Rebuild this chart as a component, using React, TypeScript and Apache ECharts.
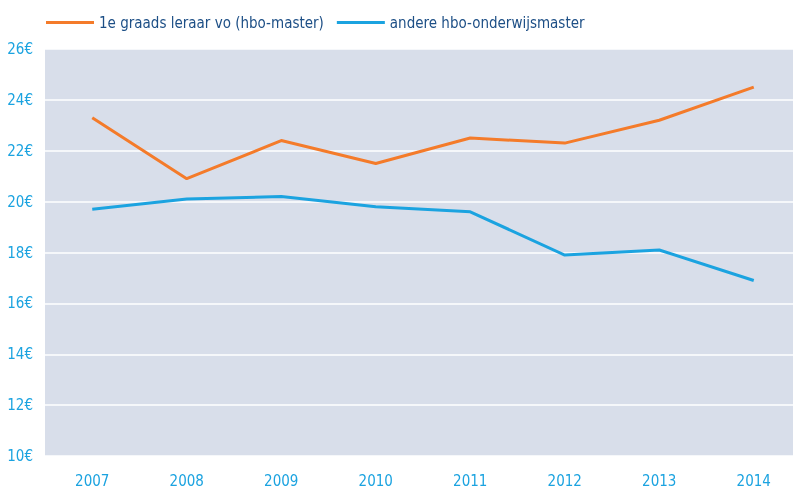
import React, { useEffect, useRef } from "react";
import * as echarts from "echarts";

const years = ["2007", "2008", "2009", "2010", "2011", "2012", "2013", "2014"];
const leraarVo = [23.3, 20.9, 22.4, 21.5, 22.5, 22.3, 23.2, 24.5];
const andereMaster = [19.7, 20.1, 20.2, 19.8, 19.6, 17.9, 18.1, 16.9];
const seriesNames = ["1e graads leraar vo (hbo-master)", "andere hbo-onderwijsmaster"];

const FONT = "'Liberation Sans Narrow', 'DejaVu Sans Condensed', 'Roboto', sans-serif";

export default function App() {
  const ref = useRef<HTMLDivElement>(null);
  useEffect(() => {
    if (!ref.current) return;
    const chart = echarts.init(ref.current, null, { renderer: "svg" });
    chart.setOption({
      animation: false,
      textStyle: { fontFamily: FONT },
      legend: {
        left: 41,
        top: 10,
        itemWidth: 48,
        itemHeight: 3,
        itemGap: 13,
        icon: "rect",
        textStyle: { color: "#1d4f86", fontSize: 15, fontFamily: FONT },
        data: seriesNames,
      },
      grid: {
        left: 45,
        right: 0,
        top: 49,
        bottom: 34,
        show: true,
        backgroundColor: "#d8deea",
        borderWidth: 0,
      },
      xAxis: {
        type: "category",
        data: years,
        boundaryGap: true,
        axisLine: { show: false },
        axisTick: { show: false },
        axisLabel: { color: "#1ba3e0", fontSize: 15, fontFamily: FONT, margin: 17 },
      },
      yAxis: {
        type: "value",
        min: 10,
        max: 26,
        interval: 2,
        axisLine: { show: false },
        axisTick: { show: false },
        axisLabel: {
          color: "#1ba3e0",
          fontSize: 15,
          fontFamily: FONT,
          margin: 12,
          formatter: "{value}€",
        },
        splitLine: { lineStyle: { color: "#ffffff", width: 1.5 } },
      },
      series: [
        {
          name: seriesNames[0],
          type: "line",
          data: leraarVo,
          symbol: "none",
          lineStyle: { color: "#f47b2a", width: 3 },
          itemStyle: { color: "#f47b2a" },
        },
        {
          name: seriesNames[1],
          type: "line",
          data: andereMaster,
          symbol: "none",
          lineStyle: { color: "#1ba3e0", width: 3 },
          itemStyle: { color: "#1ba3e0" },
        },
      ],
    });
    return () => chart.dispose();
  }, []);
  return (
    <div style={{ position: "fixed", left: 0, top: 0, width: 793, height: 490, overflow: "hidden" }}>
      <div ref={ref} style={{ position: "absolute", left: 0, top: 0, width: 801, height: 490 }} />
    </div>
  );
}
